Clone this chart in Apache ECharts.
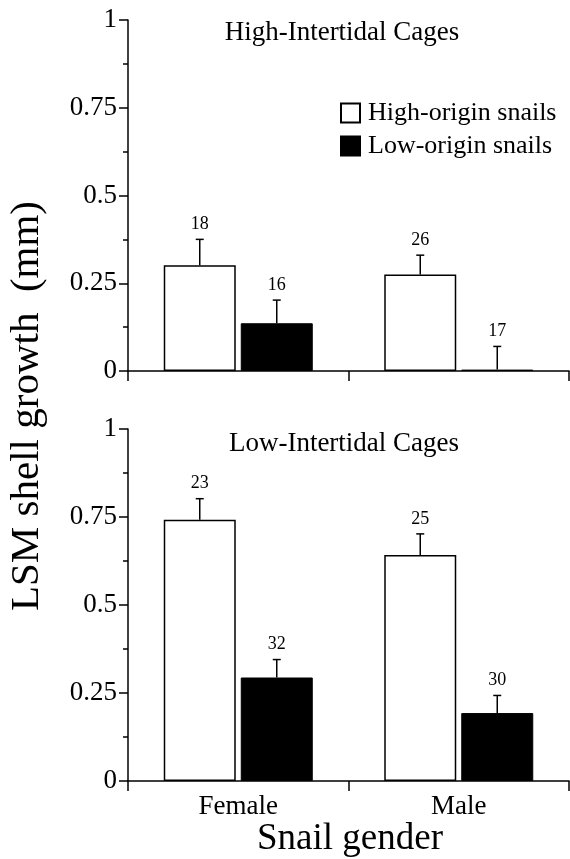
<!DOCTYPE html>
<html>
<head>
<meta charset="utf-8">
<script src="https://cdn.jsdelivr.net/npm/echarts@6/dist/echarts.min.js"></script>
<style>
  html, body { margin: 0; padding: 0; background: #fff; }
  #chart { width: 570px; height: 859px; }
</style>
</head>
<body>
<div id="chart"></div>
<script type="text/javascript">
// data
var categories = ['Female', 'Male'];
var seriesNames = ['High-origin snails', 'Low-origin snails'];

// high-intertidal cages
var highCageHigh = [0.301, 0.275];
var highCageHighSE = [0.074, 0.055];
var highCageHighN = [18, 26];
var highCageLow = [0.136, 0.004];
var highCageLowSE = [0.066, 0.066];
var highCageLowN = [16, 17];

// low-intertidal cages
var lowCageHigh = [0.742, 0.642];
var lowCageHighSE = [0.060, 0.060];
var lowCageHighN = [23, 25];
var lowCageLow = [0.294, 0.193];
var lowCageLowSE = [0.051, 0.050];
var lowCageLowN = [32, 30];

var yTicks = [0, 0.25, 0.5, 0.75, 1];

var FONT = "'Liberation Serif', 'Times New Roman', serif";
var BAR_W = 72;
var BAR_GAP = 5;

var dom = document.getElementById('chart');
var myChart = echarts.init(dom);

function errData(vals, se, n) {
  return vals.map(function (v, i) { return [i, v, se[i], n[i]]; });
}

// side: -1 left bar, +1 right bar
function errSeries(grid, side, vals, se, n) {
  return {
    type: 'custom',
    xAxisIndex: grid,
    yAxisIndex: grid,
    z: 5,
    silent: true,
    data: errData(vals, se, n),
    renderItem: function (params, api) {
      var off = side * (BAR_W + BAR_GAP) / 2;
      var base = api.coord([api.value(0), api.value(1)]);
      var top = api.coord([api.value(0), api.value(1) + api.value(2)]);
      var x = base[0] + off;
      return {
        type: 'group',
        children: [
          { type: 'line', shape: { x1: x, y1: base[1], x2: x, y2: top[1] },
            style: { stroke: '#000', lineWidth: 1.5 } },
          { type: 'line', shape: { x1: x - 4, y1: top[1], x2: x + 4, y2: top[1] },
            style: { stroke: '#000', lineWidth: 1.5 } },
          { type: 'text', x: x, y: top[1] - 6,
            style: { text: String(api.value(3)), fill: '#000', font: '18px ' + FONT,
                     textAlign: 'center', textVerticalAlign: 'bottom' } }
        ]
      };
    }
  };
}

function barSeries(grid, name, vals, white) {
  return {
    name: name,
    type: 'bar',
    xAxisIndex: grid,
    yAxisIndex: grid,
    barWidth: BAR_W,
    barGap: (BAR_GAP / BAR_W * 100) + '%',
    data: vals,
    itemStyle: white
      ? { color: '#fff', borderColor: '#000', borderWidth: 1.5 }
      : { color: '#000', borderColor: '#000', borderWidth: 1 }
  };
}

function yAxisOpt(grid) {
  return {
    type: 'value',
    gridIndex: grid,
    min: 0,
    max: 1,
    interval: 0.25,
    axisLine: { show: true, lineStyle: { color: '#000', width: 1.5 } },
    axisTick: { show: true, length: 9, lineStyle: { color: '#000', width: 1.5 } },
    minorTick: { show: true, splitNumber: 2, length: 5, lineStyle: { color: '#000', width: 1.5 } },
    splitLine: { show: false },
    axisLabel: {
      margin: 11, color: '#000', fontSize: 27, fontFamily: FONT,
      formatter: function (v) { return yTicks.indexOf(v) >= 0 ? String(v) : ''; }
    }
  };
}

function xAxisOpt(grid, showLabels) {
  return {
    type: 'category',
    gridIndex: grid,
    data: categories,
    boundaryGap: true,
    axisLine: { show: true, lineStyle: { color: '#000', width: 1.5 } },
    axisTick: { show: true, interval: 0, length: 10, lineStyle: { color: '#000', width: 1.5 } },
    axisLabel: { show: showLabels, margin: 12, color: '#000', fontSize: 27, fontFamily: FONT }
  };
}

var option = {
  backgroundColor: '#fff',
  animation: false,
  textStyle: { fontFamily: FONT },
  grid: [
    { left: 128, top: 20, width: 441, height: 351 },
    { left: 128, top: 429, width: 441, height: 352 }
  ],
  legend: {
    data: seriesNames,
    orient: 'vertical',
    left: 340,
    top: 100,
    padding: 0,
    icon: 'rect',
    itemWidth: 19,
    itemHeight: 19,
    itemGap: 7,
    selectedMode: false,
    textStyle: { color: '#000', fontSize: 26, fontFamily: FONT, lineHeight: 25, padding: [0, 0, 0, 3] }
  },
  graphic: [
    { type: 'text', x: 342, y: 33,
      style: { text: 'High-Intertidal Cages', fill: '#000', font: '27px ' + FONT,
               textAlign: 'center', textVerticalAlign: 'middle' } },
    { type: 'text', x: 344, y: 444,
      style: { text: 'Low-Intertidal Cages', fill: '#000', font: '27px ' + FONT,
               textAlign: 'center', textVerticalAlign: 'middle' } },
    { type: 'text', x: 27, y: 406, rotation: Math.PI / 2,
      style: { text: 'LSM shell growth  (mm)', fill: '#000', font: '41px ' + FONT,
               textAlign: 'center', textVerticalAlign: 'middle' } },
    { type: 'text', x: 350, y: 839,
      style: { text: 'Snail gender', fill: '#000', font: '37px ' + FONT,
               textAlign: 'center', textVerticalAlign: 'middle' } }
  ],
  xAxis: [xAxisOpt(0, false), xAxisOpt(1, true)],
  yAxis: [yAxisOpt(0), yAxisOpt(1)],
  series: [
    barSeries(0, seriesNames[0], highCageHigh, true),
    barSeries(0, seriesNames[1], highCageLow, false),
    barSeries(1, seriesNames[0], lowCageHigh, true),
    barSeries(1, seriesNames[1], lowCageLow, false),
    errSeries(0, -1, highCageHigh, highCageHighSE, highCageHighN),
    errSeries(0, 1, highCageLow, highCageLowSE, highCageLowN),
    errSeries(1, -1, lowCageHigh, lowCageHighSE, lowCageHighN),
    errSeries(1, 1, lowCageLow, lowCageLowSE, lowCageLowN)
  ]
};

if (option && typeof option === 'object') {
  myChart.setOption(option, true);
}
</script>
</body>
</html>
